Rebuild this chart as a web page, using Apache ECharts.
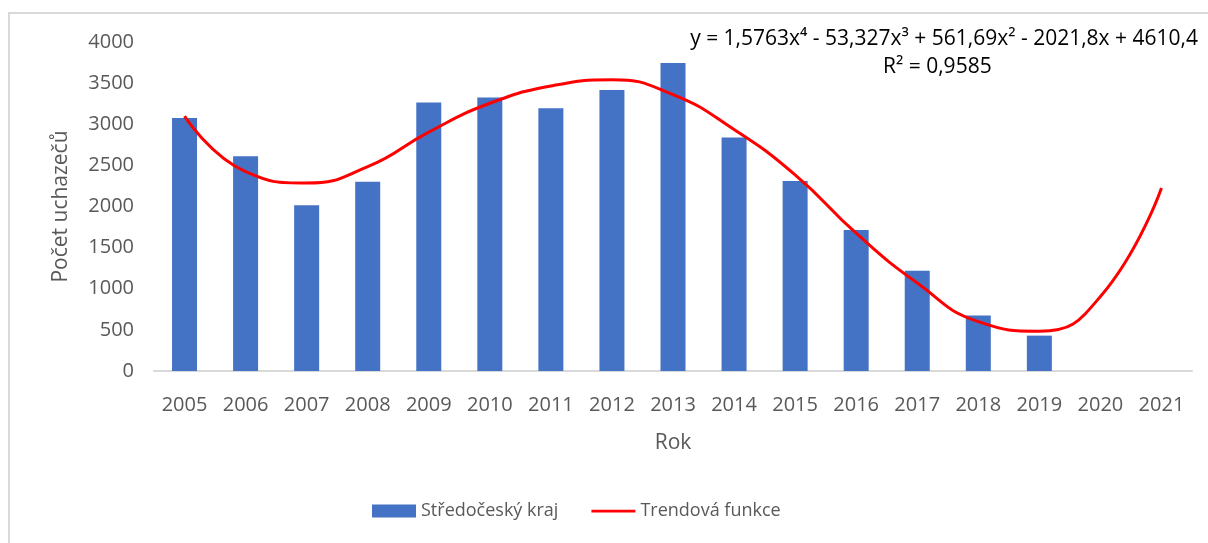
<!DOCTYPE html>
<html>
<head>
<meta charset="utf-8">
<script src="https://cdn.jsdelivr.net/npm/echarts@6/dist/echarts.min.js"></script>
<style>
  html, body { margin: 0; padding: 0; background: #fff; }
  #chart { width: 1208px; height: 543px; }
</style>
</head>
<body>
<div id="chart"></div>
<script>
    // data
    var roky = ['2005', '2006', '2007', '2008', '2009', '2010', '2011', '2012', '2013',
        '2014', '2015', '2016', '2017', '2018', '2019', '2020', '2021'];
    var uchazeci = [3075, 2610, 2015, 2300, 3265, 3325, 3195, 3415, 3745,
        2840, 2310, 1715, 1220, 675, 430, null, null];
    var trend = [3098, 2425, 2285, 2485, 2905, 3255, 3465, 3540, 3360,
        2935, 2385, 1675, 1070, 600, 484, 905, 2226];
    var rovnice = 'y = 1,5763x⁴ - 53,327x³ + 561,69x² - 2021,8x + 4610,4';
    var r2 = 'R² = 0,9585';

    var font = '"Open Sans", "Liberation Sans", sans-serif';
    var seda = '#595959';

    var myChart = echarts.init(document.getElementById('chart'));
    var option = {
        backgroundColor: '#fff',
        animation: false,
        textStyle: { fontFamily: font },
        grid: { left: 154, right: 16, top: 42, bottom: 172 },
        legend: {
            bottom: 18,
            left: 367,
            itemGap: 33,
            itemWidth: 44,
            itemHeight: 13,
            textStyle: { fontSize: 18, color: seda, fontFamily: font },
            data: [
                { name: 'Středočeský kraj', icon: 'rect' },
                { name: 'Trendová funkce', icon: 'path://M0,0 L48,0 L48,3 L0,3 Z', itemStyle: { color: '#ff0000' } }
            ]
        },
        xAxis: {
            type: 'category',
            data: roky,
            name: 'Rok',
            nameLocation: 'middle',
            nameGap: 62,
            nameTextStyle: { fontSize: 21, color: seda, fontFamily: font },
            axisLine: { lineStyle: { color: '#d9d9d9', width: 2 } },
            axisTick: { show: false },
            axisLabel: { fontSize: 20, color: seda, margin: 24, fontFamily: font }
        },
        yAxis: {
            type: 'value',
            min: 0,
            max: 4000,
            interval: 500,
            name: 'Počet uchazečů',
            nameLocation: 'middle',
            nameGap: 82,
            nameTextStyle: { fontSize: 21, color: seda, fontFamily: font },
            splitLine: { show: false },
            axisLine: { show: false },
            axisTick: { show: false },
            axisLabel: {
                fontSize: 20, color: seda, margin: 20, fontFamily: font,
                formatter: function (v) { return String(v); }
            }
        },
        series: [
            {
                name: 'Středočeský kraj',
                type: 'bar',
                data: uchazeci,
                barWidth: 25,
                itemStyle: { color: '#4472c4' }
            },
            {
                name: 'Trendová funkce',
                type: 'line',
                data: trend,
                smooth: 0.5,
                symbol: 'none',
                lineStyle: { color: '#ff0000', width: 3 },
                itemStyle: { color: '#ff0000' },
                z: 3
            }
        ],
        graphic: [
            {
                type: 'rect',
                shape: { x: 9, y: 13, width: 1220, height: 560 },
                style: { fill: 'none', stroke: '#d9d9d9', lineWidth: 2 },
                silent: true
            },
            {
                type: 'text',
                right: 10,
                top: 29,
                style: { text: rovnice, fontSize: 21, fill: '#000', fontFamily: font }
            },
            {
                type: 'text',
                left: 883,
                top: 57,
                style: { text: r2, fontSize: 21, fill: '#000', fontFamily: font }
            }
        ]
    };
    myChart.setOption(option);
</script>
</body>
</html>
